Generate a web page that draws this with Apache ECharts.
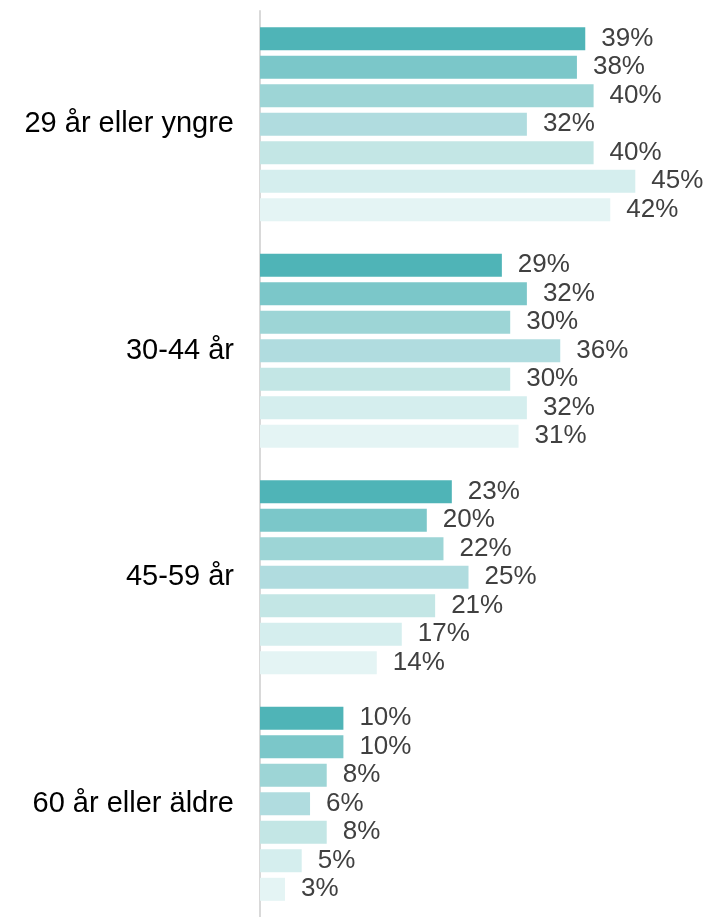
<!DOCTYPE html>
<html>
<head>
<meta charset="utf-8">
<script src="https://cdn.jsdelivr.net/npm/echarts@6/dist/echarts.min.js"></script>
<style>
  html, body { margin: 0; padding: 0; background: #fff; }
  #chart { width: 709px; height: 917px; }
</style>
</head>
<body>
<div id="chart"></div>
<script>
const categories = ['29 år eller yngre', '30-44 år', '45-59 år', '60 år eller äldre'];
const series1 = [39, 29, 23, 10];
const series2 = [38, 32, 20, 10];
const series3 = [40, 30, 22, 8];
const series4 = [32, 36, 25, 6];
const series5 = [40, 30, 21, 8];
const series6 = [45, 32, 17, 5];
const series7 = [42, 31, 14, 3];
const colors = ['#4fb4b7', '#7bc7c9', '#9dd5d6', '#b0dcdf', '#c3e6e5', '#d5eeee', '#e4f4f4'];

const allData = [series1, series2, series3, series4, series5, series6, series7];

const chart = echarts.init(document.getElementById('chart'));
chart.setOption({
  animation: false,
  textStyle: { fontFamily: 'Liberation Sans, Arial, sans-serif' },
  grid: { left: 260, top: 11, width: 417, height: 912 },
  xAxis: {
    type: 'value',
    min: 0,
    max: 50,
    show: false
  },
  yAxis: {
    type: 'category',
    data: categories,
    inverse: true,
    axisLine: { show: true, lineStyle: { color: '#d9d9d9', width: 2 } },
    axisTick: { show: false },
    axisLabel: { color: '#000', fontSize: 29, margin: 26, padding: [12, 0, 0, 0] }
  },
  series: allData.map((d, i) => ({
    name: 'Serie ' + (i + 1),
    type: 'bar',
    data: d,
    barWidth: 23,
    barGap: '24%',
    itemStyle: { color: colors[i] },
    label: {
      show: true,
      position: 'right',
      distance: 16,
      formatter: '{c}%',
      color: '#404040',
      fontSize: 26,
      padding: [8, 0, 0, 0]
    }
  }))
});
</script>
</body>
</html>
